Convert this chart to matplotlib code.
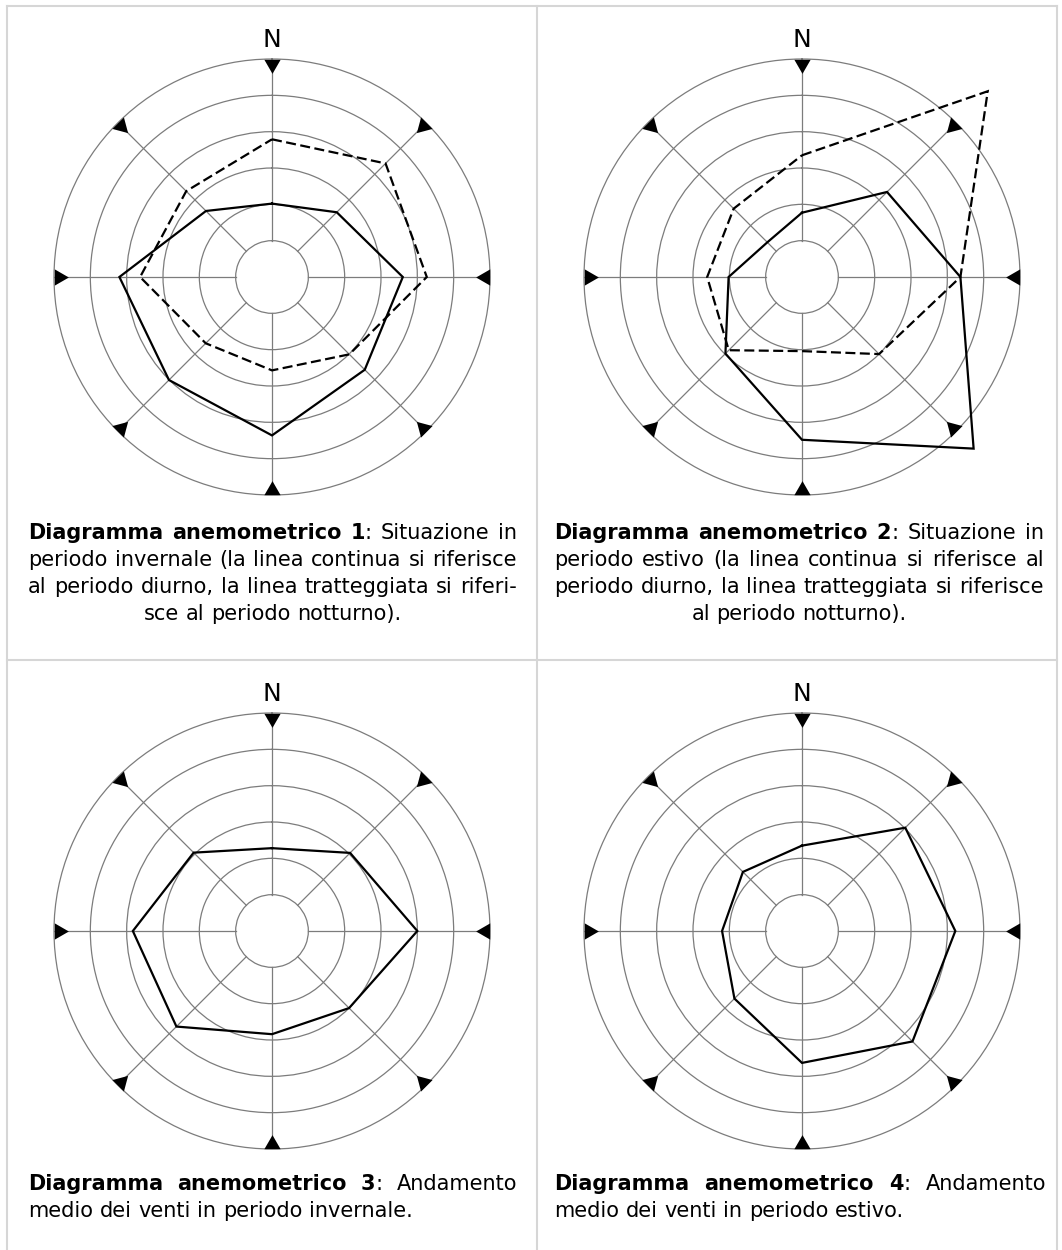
import numpy as np
import matplotlib
matplotlib.use("Agg")
import matplotlib.pyplot as plt
from matplotlib.lines import Line2D

# ---------------- data ----------------
DIRECTIONS = ["N", "NE", "E", "SE", "S", "SW", "W", "NW"]
BEARINGS = [0, 45, 90, 135, 180, 225, 270, 315]
RINGS = [1, 2, 3, 4, 5, 6]

P1_DAY = [2.02, 2.52, 3.60, 3.61, 4.36, 4.01, 4.20, 2.57]
P1_NIGHT = [3.79, 4.42, 4.26, 3.01, 2.57, 2.58, 3.63, 3.34]
P2_DAY = [1.77, 3.31, 4.36, 6.68, 4.48, 2.98, 2.02, 1.35]
P2_NIGHT = [3.35, 7.23, 4.36, 3.00, 2.04, 2.85, 2.61, 2.66]
P3_MEAN = [2.28, 3.04, 4.00, 3.00, 2.84, 3.72, 3.83, 3.05]
P4_MEAN = [2.35, 4.02, 4.22, 4.30, 3.63, 2.63, 2.20, 2.30]

NORTH_LABEL = "N"

CAP1_BOLD = "Diagramma anemometrico 1"
CAP1_LINES = ["Situazione in",
              "periodo invernale (la linea continua si riferisce",
              "al periodo diurno, la linea tratteggiata si riferi-",
              "sce al periodo notturno)."]
CAP2_BOLD = "Diagramma anemometrico 2"
CAP2_LINES = ["Situazione in",
              "periodo estivo (la linea continua si riferisce al",
              "periodo diurno, la linea tratteggiata si riferisce",
              "al periodo notturno)."]
CAP3_BOLD = "Diagramma anemometrico 3"
CAP3_LINES = ["Andamento",
              "medio dei venti in periodo invernale."]
CAP4_BOLD = "Diagramma anemometrico 4"
CAP4_LINES = ["Andamento",
              "medio dei venti in periodo estivo."]

# ---------------- layout ----------------
W, H = 1062, 1250
fig = plt.figure(figsize=(W / 100, H / 100), dpi=100)
fig.patch.set_facecolor("white")

GRID_C = "#7c7c7c"
R_PX = 218
FS_CAP = 15


def fx(px):
    return px / W


def fy(py):
    return 1 - py / H


def rose(cx, cy, series):
    ax = fig.add_axes([fx(cx - R_PX), fy(cy + R_PX), 2 * R_PX / W, 2 * R_PX / H],
                      projection="polar")
    ax.set_theta_zero_location("N")
    ax.set_theta_direction(-1)
    ax.set_ylim(0, RINGS[-1])
    ax.set_yticks(RINGS[:-1])
    ax.set_yticklabels([])
    ax.set_xticks([])
    ax.yaxis.grid(True, color=GRID_C, lw=0.9)
    ax.xaxis.grid(False)
    ax.spines["polar"].set_color(GRID_C)
    ax.spines["polar"].set_linewidth(0.9)
    ax.patch.set_alpha(0)
    th = np.deg2rad(BEARINGS)
    for t in th:
        ax.plot([t, t], [RINGS[0], RINGS[-1]], color=GRID_C, lw=0.9, zorder=1)
    for b in BEARINGS:
        ax.plot(np.deg2rad(b), RINGS[-1] - 0.13, marker=(3, 0, 180 - b), ms=13.5,
                color="black", mew=0, clip_on=False, zorder=4)
    for vals, ls in series:
        tt = np.append(th, th[0])
        rr = np.append(vals, vals[0])
        ax.plot(tt, rr, color="black", lw=1.6, linestyle=ls, clip_on=False,
                zorder=3, solid_joinstyle="miter", dash_joinstyle="miter")
    ax.annotate(NORTH_LABEL, xy=(0, RINGS[-1]), xytext=(0, 19),
                textcoords="offset pixels", ha="center", va="center",
                fontsize=18, annotation_clip=False)
    return ax


DASH = (0, (4.5, 2.0))
rose(272, 277, [(P1_DAY, "-"), (P1_NIGHT, DASH)])
rose(802, 277, [(P2_DAY, "-"), (P2_NIGHT, DASH)])
rose(272, 931, [(P3_MEAN, "-")])
rose(802, 931, [(P4_MEAN, "-")])

# ---------------- captions ----------------
renderer = fig.canvas.get_renderer()


def measure(s, weight):
    t = fig.text(0, 0, s, fontsize=FS_CAP, fontweight=weight)
    w = t.get_window_extent(renderer).width
    t.remove()
    return w


SPACE = measure("a a", "normal") - measure("aa", "normal")


def caption(bold, lines, x0, x1, ycenters, last_mode):
    tok_lines = []
    bwords = bold.split()
    first = [[(w, "bold")] for w in bwords]
    first[-1].append((":", "normal"))
    first += [[(w, "normal")] for w in lines[0].split()]
    tok_lines.append(first)
    for ln in lines[1:]:
        tok_lines.append([[(w, "normal")] for w in ln.split()])
    n = len(tok_lines)
    for i, (words, yc) in enumerate(zip(tok_lines, ycenters)):
        widths = [[measure(s, wt) for s, wt in word] for word in words]
        wsum = [sum(w) for w in widths]
        last = (i == n - 1)
        if not last and len(words) > 1:
            gap = (x1 - x0 - sum(wsum)) / (len(words) - 1)
            x = x0
        else:
            gap = SPACE
            total = sum(wsum) + gap * (len(words) - 1)
            x = x0 if last_mode == "left" else (x0 + x1) / 2 - total / 2
        yb = yc + 6
        for word, wl, ws in zip(words, widths, wsum):
            xx = x
            for (s, wt), w in zip(word, wl):
                fig.text(fx(xx), fy(yb), s, fontsize=FS_CAP, fontweight=wt,
                         ha="left", va="baseline")
                xx += w
            x += ws + gap


caption(CAP1_BOLD, CAP1_LINES, 28, 517, [533, 560, 587, 614], "center")
caption(CAP2_BOLD, CAP2_LINES, 554, 1044, [533, 560, 587, 614], "center")
caption(CAP3_BOLD, CAP3_LINES, 28, 517, [1184, 1211], "left")
caption(CAP4_BOLD, CAP4_LINES, 554, 1046, [1184, 1211], "left")

# ---------------- panel frame ----------------
FRAME_C = "#d6d6d6"
for xs, ys in [([6.5, 6.5], [6, H]), ([6.5, 1057], [6, 6]), ([1057, 1057], [6, H]),
               ([537, 537], [6, H]), ([6.5, 1057], [660, 660])]:
    fig.add_artist(Line2D([fx(v) for v in xs], [fy(v) for v in ys],
                          transform=fig.transFigure, color=FRAME_C, lw=1.5))

fig.savefig("out.png", dpi=100, facecolor="white")
